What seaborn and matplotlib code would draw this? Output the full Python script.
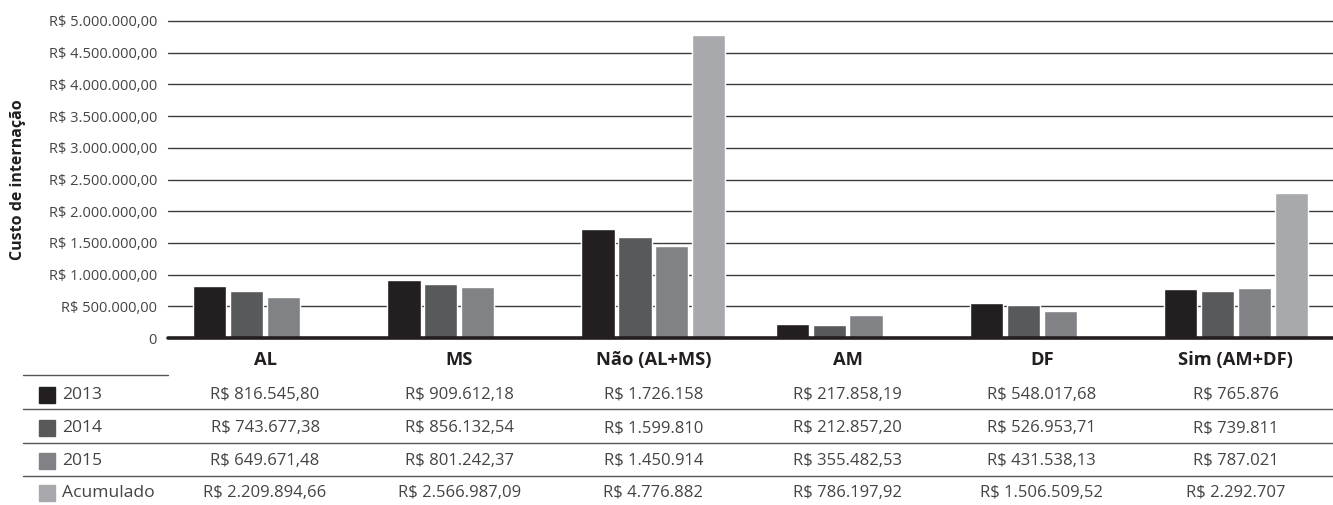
import numpy as np
import pandas as pd
import matplotlib
matplotlib.use("Agg")
import matplotlib.pyplot as plt
import matplotlib.transforms as mtransforms
from matplotlib.lines import Line2D
from matplotlib.patches import Rectangle
import seaborn as sns

# ---------------- data ----------------
categories = ["AL", "MS", "Não (AL+MS)", "AM", "DF", "Sim (AM+DF)"]
aggregated = ["Não (AL+MS)", "Sim (AM+DF)"]
series = ["2013", "2014", "2015", "Acumulado"]
v2013 = [816545.80, 909612.18, 1726158, 217858.19, 548017.68, 765876]
v2014 = [743677.38, 856132.54, 1599810, 212857.20, 526953.71, 739811]
v2015 = [649671.48, 801242.37, 1450914, 355482.53, 431538.13, 787021]
vacum = [2209894.66, 2566987.09, 4776882, 786197.92, 1506509.52, 2292707]
yticks = [0, 500000, 1000000, 1500000, 2000000, 2500000, 3000000,
          3500000, 4000000, 4500000, 5000000]
colors = ["#231f20", "#58595b", "#808285", "#a7a9ac"]

# ---------------- style ----------------
sns.set_theme(style="white")
plt.rcParams["font.family"] = ["Open Sans", "DejaVu Sans"]
TXT = "#444444"

W, H = 1333, 505
fig = plt.figure(figsize=(W / 100, H / 100), dpi=100)

def fx(px):
    return px / W

def fy(py):
    return 1 - py / H

ax_left, ax_right, ax_top, ax_bot = 168, 1333, 21, 338
ax = fig.add_axes([fx(ax_left), fy(ax_bot), fx(ax_right - ax_left), (ax_bot - ax_top) / H])

# long-form data; Acumulado bars only for aggregated groups
all_vals = {"2013": v2013, "2014": v2014, "2015": v2015, "Acumulado": vacum}
rows = []
for s in series:
    for c, v in zip(categories, all_vals[s]):
        if s == "Acumulado" and c not in aggregated:
            continue
        rows.append({"cat": c, "serie": s, "val": v})
df = pd.DataFrame(rows)

sns.barplot(data=df, x="cat", y="val", hue="serie", order=categories,
            hue_order=series, palette=colors, saturation=1, width=0.76,
            gap=0.1, legend=False, ax=ax, errorbar=None, zorder=3)

ax.set_xlim(-0.5, len(categories) - 0.5)
ax.set_ylim(0, 5000000)
for sp in ax.spines.values():
    sp.set_visible(False)
ax.set_xlabel("")
ax.set_xticks([])
ax.set_ylabel("")

def fmt_tick(v):
    if v == 0:
        return "0"
    s = f"{v:,.2f}".replace(",", "X").replace(".", ",").replace("X", ".")
    return "R$ " + s

ax.set_yticks(yticks)
ax.set_yticklabels([fmt_tick(v) for v in yticks], fontsize=10.5, color=TXT)
ax.tick_params(axis="y", length=0, pad=8)
for t in yticks[1:]:
    ax.axhline(t, color="#3d3d3d", lw=1.0, zorder=1, clip_on=False)
ax.axhline(0, color="#231f20", lw=2.6, zorder=4, clip_on=False)

fig.text(fx(18), fy((ax_top + ax_bot) / 2), "Custo de internação", rotation=90,
         ha="center", va="center", fontsize=11.5, fontweight="bold", color="#231f20")

# ---------------- data table ----------------
blend = mtransforms.blended_transform_factory(ax.transData, fig.transFigure)

def fmt_val(v):
    if float(v).is_integer():
        s = f"{int(v):,}".replace(",", ".")
    else:
        s = f"{v:,.2f}".replace(",", "X").replace(".", ",").replace("X", ".")
    return "R$ " + s

for i, c in enumerate(categories):
    ax.text(i, fy(360), c, transform=blend, ha="center", va="center",
            fontsize=13.2, fontweight="bold", color="#231f20")

row_y = [395, 428, 461, 493]
for r, s in enumerate(series):
    y = row_y[r]
    fig.patches.append(Rectangle((fx(39), fy(y + 8)), fx(16), 16 / H,
                                 transform=fig.transFigure, color=colors[r]))
    fig.text(fx(62), fy(y), s, ha="left", va="center", fontsize=12.6, color=TXT)
    for i, v in enumerate(all_vals[s]):
        ax.text(i, fy(y), fmt_val(v), transform=blend, ha="center", va="center",
                fontsize=12, color=TXT)

fig.lines.append(Line2D([fx(23), fx(168)], [fy(375), fy(375)],
                        transform=fig.transFigure, color="#555555", lw=1))
for py in [409, 443, 476]:
    fig.lines.append(Line2D([fx(23), fx(1333)], [fy(py), fy(py)],
                            transform=fig.transFigure, color="#555555", lw=1))

fig.savefig("out.png", dpi=100)
